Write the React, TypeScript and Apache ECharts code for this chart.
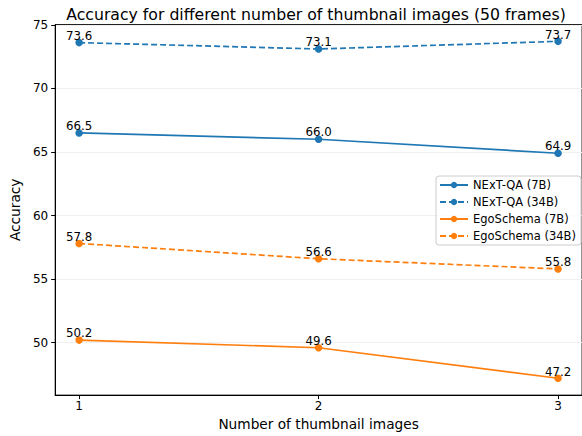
import React, { useEffect, useRef } from "react";
import * as echarts from "echarts";

const xValues = [1, 2, 3];
const nextQA7B = [66.5, 66.0, 64.9];
const nextQA34B = [73.6, 73.1, 73.7];
const ego7B = [50.2, 49.6, 47.2];
const ego34B = [57.8, 56.6, 55.8];
const yTicks = [50, 55, 60, 65, 70, 75];
const titleText = "Accuracy for different number of thumbnail images (50 frames)";

const BLUE = "#1f77b4";
const ORANGE = "#ff7f0e";
const FONT = "DejaVu Sans";

function mkSeries(name: string, vals: number[], color: string, dashed: boolean) {
  return {
    name,
    type: "line",
    data: xValues.map((x, i) => [x, vals[i]]),
    symbol: "circle",
    symbolSize: 7.5,
    itemStyle: { color },
    lineStyle: { color, width: 1.7, type: dashed ? [6, 3] : "solid" },
    label: {
      show: true,
      position: "top",
      distance: -3,
      color: "#000",
      fontFamily: FONT,
      fontSize: 11.8,
      formatter: (p: any) => Number(p.value[1]).toFixed(1),
    },
    emphasis: { disabled: true },
  };
}

export default function App() {
  const ref = useRef<HTMLDivElement>(null);
  useEffect(() => {
    const chart = echarts.init(ref.current!, null, { renderer: "svg" });
    chart.setOption({
      animation: false,
      backgroundColor: "#fff",
      textStyle: { fontFamily: FONT },
      grid: {
        left: 45,
        top: 24.5,
        width: 541,
        bottom: 35,
        show: true,
        borderColor: "#222",
        borderWidth: 1,
        backgroundColor: "transparent",
      },
      graphic: [
        {
          type: "text",
          x: 316,
          y: 14,
          style: {
            text: titleText,
            textAlign: "center",
            textVerticalAlign: "middle",
            fontFamily: FONT,
            fontSize: 15.7,
            fill: "#000",
          },
        },
      ],
      xAxis: {
        type: "value",
        min: 0.9,
        max: 3.1,
        name: "Number of thumbnail images",
        nameLocation: "middle",
        nameGap: 20,
        nameTextStyle: { fontFamily: FONT, fontSize: 13.7, color: "#000" },
        axisLine: { show: true, lineStyle: { color: "#000", width: 1 } },
        axisTick: { show: true, length: 4, customValues: xValues, lineStyle: { color: "#000" } },
        axisLabel: {
          customValues: xValues,
          fontFamily: FONT,
          fontSize: 12,
          color: "#000",
          margin: 5,
          formatter: (v: number) => String(v),
        },
        splitLine: { show: false },
      },
      yAxis: {
        type: "value",
        min: 45.875,
        max: 75.025,
        name: "Accuracy",
        nameLocation: "middle",
        nameGap: 25,
        nameTextStyle: { fontFamily: FONT, fontSize: 13.7, color: "#000" },
        axisLine: { show: true, lineStyle: { color: "#000", width: 1 } },
        axisTick: { show: true, length: 4, customValues: yTicks, lineStyle: { color: "#000" } },
        axisLabel: {
          customValues: yTicks,
          fontFamily: FONT,
          fontSize: 12,
          color: "#000",
          margin: 7,
          formatter: (v: number) => String(v),
        },
        splitLine: { show: true, lineStyle: { color: "#f0f0f0", width: 1 } },
      },
      legend: {
        orient: "vertical",
        right: 1,
        top: 176,
        padding: [3, 5, 3, 3],
        itemWidth: 28,
        itemHeight: 8,
        itemGap: 5,
        borderColor: "#cccccc",
        borderWidth: 1,
        borderRadius: 3,
        backgroundColor: "rgba(255,255,255,0.8)",
        textStyle: { fontFamily: FONT, fontSize: 11.5, color: "#000" },
        data: ["NExT-QA (7B)", "NExT-QA (34B)", "EgoSchema (7B)", "EgoSchema (34B)"],
      },
      series: [
        mkSeries("NExT-QA (7B)", nextQA7B, BLUE, false),
        mkSeries("NExT-QA (34B)", nextQA34B, BLUE, true),
        mkSeries("EgoSchema (7B)", ego7B, ORANGE, false),
        mkSeries("EgoSchema (34B)", ego34B, ORANGE, true),
      ],
    });
    return () => chart.dispose();
  }, []);
  return (
    <div
      ref={ref}
      style={{ position: "fixed", left: 0, top: 0, width: 582, height: 436 }}
    />
  );
}
